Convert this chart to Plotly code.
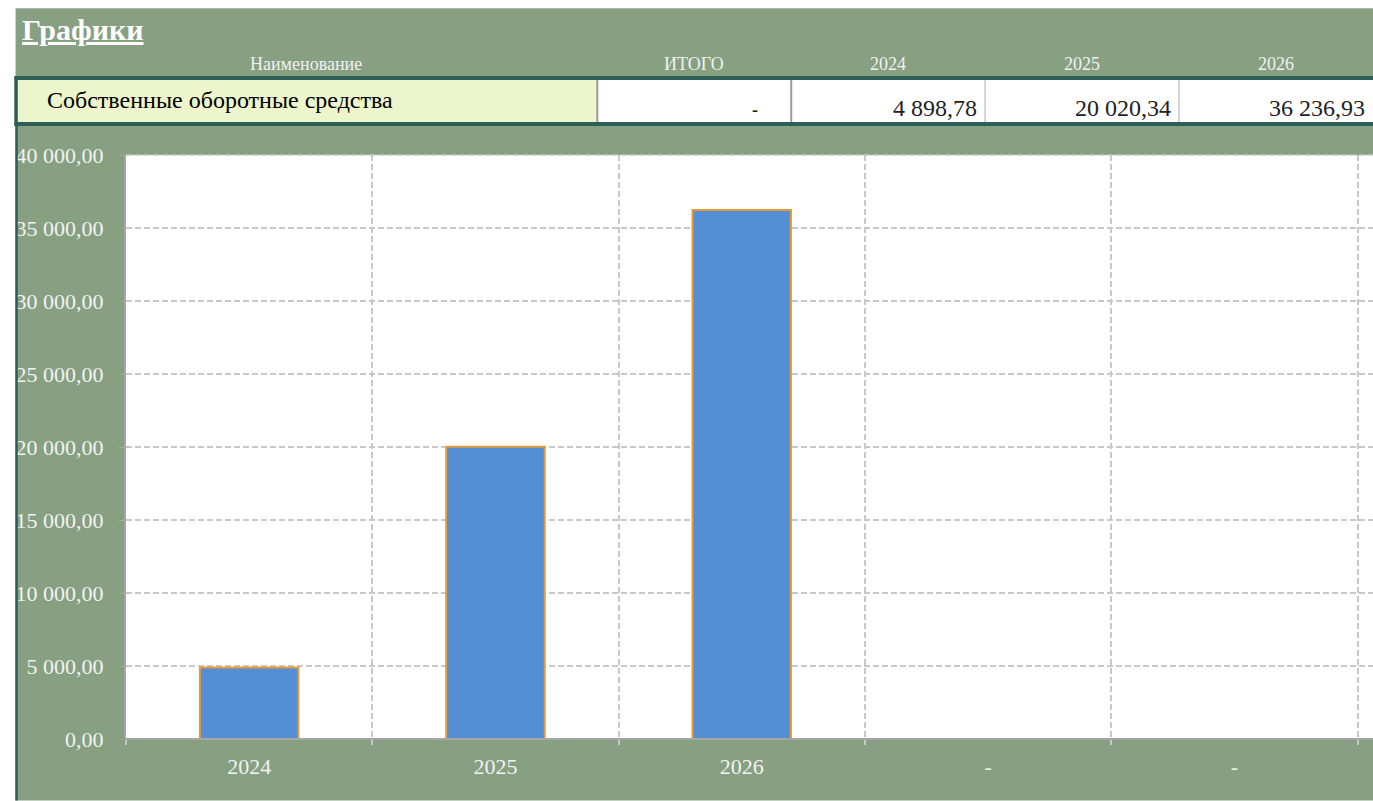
import plotly.graph_objects as go

# ---- data ----
categories = ["2024", "2025", "2026", "-", "-"]
values = [4898.78, 20020.34, 36236.93, None, None]
row_name = "Собственные оборотные средства"
header_labels = ["Наименование", "ИТОГО", "2024", "2025", "2026"]
table_values = ["-", 4898.78, 20020.34, 36236.93]
title_text = "Графики"

W, H = 1373, 801
ML, MR, MT, MB = 125.5, 0, 155, 61.5
PW, PH = W - ML - MR, H - MT - MB

def px(x):
    return (x - ML) / PW

def py(y):
    return (H - MB - y) / PH

def fmt(v):
    if isinstance(v, str):
        return v
    return f"{v:,.2f}".replace(",", " ").replace(".", ",")

GREEN = "#87a082"
DARK = "#2f5e58"
YEL = "#ecf5cb"
GRID = "#c8c8c8"
SERIF = "Liberation Serif"

xs = list(range(len(categories)))
cat_w = 246.4
x_max = -0.5 + PW / cat_w

fig = go.Figure()
fig.add_trace(go.Bar(
    x=xs, y=values,
    marker=dict(color="#548ed4", line=dict(color="#e59b38", width=2)),
    width=0.4, hoverinfo="skip",
))

shapes = []
# green background panel
shapes.append(dict(type="rect", xref="paper", yref="paper", x0=px(15), x1=px(W), y0=py(8), y1=py(H),
                   fillcolor=GREEN, line_width=0, layer="below"))
# plot area white
shapes.append(dict(type="rect", xref="paper", yref="paper", x0=0, x1=1, y0=0, y1=1,
                   fillcolor="white", line_width=0, layer="below"))
# left dark border
shapes.append(dict(type="line", xref="paper", yref="paper", x0=px(16), x1=px(16), y0=py(77), y1=py(H),
                   line=dict(color=DARK, width=2.5)))
# table row cells
cell_edges = [15, 597, 791, 985, 1179, W]
shapes.append(dict(type="rect", xref="paper", yref="paper", x0=px(cell_edges[0]), x1=px(cell_edges[1]),
                   y0=py(78), y1=py(124), fillcolor=YEL, line_width=0))
shapes.append(dict(type="rect", xref="paper", yref="paper", x0=px(cell_edges[1]), x1=px(W),
                   y0=py(78), y1=py(124), fillcolor="white", line_width=0))
for i, e in enumerate(cell_edges[1:-1]):
    col = "#9a9a9a" if i < 2 else "#d4d4d4"
    shapes.append(dict(type="line", xref="paper", yref="paper", x0=px(e), x1=px(e), y0=py(79), y1=py(122),
                       line=dict(color=col, width=2)))
for yy in (78, 124):
    shapes.append(dict(type="line", xref="paper", yref="paper", x0=px(14), x1=px(W), y0=py(yy), y1=py(yy),
                       line=dict(color=DARK, width=4)))
shapes.append(dict(type="line", xref="paper", yref="paper", x0=px(15.5), x1=px(15.5), y0=py(76), y1=py(126),
                   line=dict(color=DARK, width=3.5)))
# top gridline of plot area
shapes.append(dict(type="line", xref="paper", yref="paper", x0=0, x1=1, y0=1, y1=1,
                   line=dict(color=GRID, width=1.5, dash="6px,3px")))

annotations = []
annotations.append(dict(text=f"<b><u>{title_text}</u></b>", xref="paper", yref="paper", x=px(19), y=py(29),
                        xanchor="left", yanchor="middle", showarrow=False,
                        font=dict(family=SERIF, size=30, color="white")))
for i, lab in enumerate(header_labels):
    cx = (cell_edges[i] + cell_edges[i + 1]) / 2
    annotations.append(dict(text=lab, xref="paper", yref="paper", x=px(cx), y=py(64),
                            xanchor="center", yanchor="middle", showarrow=False,
                            font=dict(family=SERIF, size=18, color="#f0f0f0")))
annotations.append(dict(text=row_name, xref="paper", yref="paper", x=px(44), y=py(100),
                        xanchor="left", yanchor="middle", showarrow=False,
                        font=dict(family=SERIF, size=24, color="black")))
for i, v in enumerate(table_values):
    right = cell_edges[i + 2] - 6
    txt = fmt(v)
    if isinstance(v, str):
        annotations.append(dict(text="<b>" + txt + "</b>", xref="paper", yref="paper", x=px(right - 25),
                                y=py(110), xanchor="right", yanchor="middle", showarrow=False,
                                font=dict(family=SERIF, size=18, color="#222222")))
    else:
        annotations.append(dict(text=txt, xref="paper", yref="paper", x=px(right),
                                y=py(108), xanchor="right", yanchor="middle", showarrow=False,
                                font=dict(family=SERIF, size=24, color="#222222")))

fig.update_layout(
    width=W, height=H, autosize=False,
    margin=dict(l=ML, r=MR, t=MT, b=MB, pad=0),
    paper_bgcolor="white", plot_bgcolor="white",
    separators=", ",
    showlegend=False,
    shapes=shapes, annotations=annotations,
    xaxis=dict(
        range=[-0.5, x_max], tickmode="array", tickvals=xs, ticktext=categories,
        showgrid=False, zeroline=False, showline=False, ticks="",
        ticklabelstandoff=12,
        tickfont=dict(family=SERIF, size=22, color="#f2f2f2"),
        minor=dict(tick0=0.5, dtick=1, showgrid=True, griddash="6px,3px", gridcolor=GRID, gridwidth=1.5,
                   ticks="outside", ticklen=5, tickcolor=GRID, tickwidth=1.5),
        fixedrange=True,
    ),
    yaxis=dict(
        range=[0, 40000], dtick=5000, tickformat=",.2f",
        showgrid=True, griddash="6px,3px", gridcolor=GRID, gridwidth=1.5,
        zeroline=False, showline=True, linecolor="#a6a6a6", linewidth=2,
        ticks="outside", ticklen=5, tickcolor="#a6a6a6",
        ticklabelstandoff=11,
        tickfont=dict(family=SERIF, size=22, color="#f2f2f2"),
        fixedrange=True,
    ),
)
# bottom axis line
fig.add_shape(type="line", xref="paper", yref="paper", x0=0, x1=1, y0=0, y1=0,
              line=dict(color="#a6a6a6", width=2))

fig.write_html("out.html", config={"displayModeBar": False},
               post_script="document.body.style.margin='0';document.body.style.overflow='hidden';")
